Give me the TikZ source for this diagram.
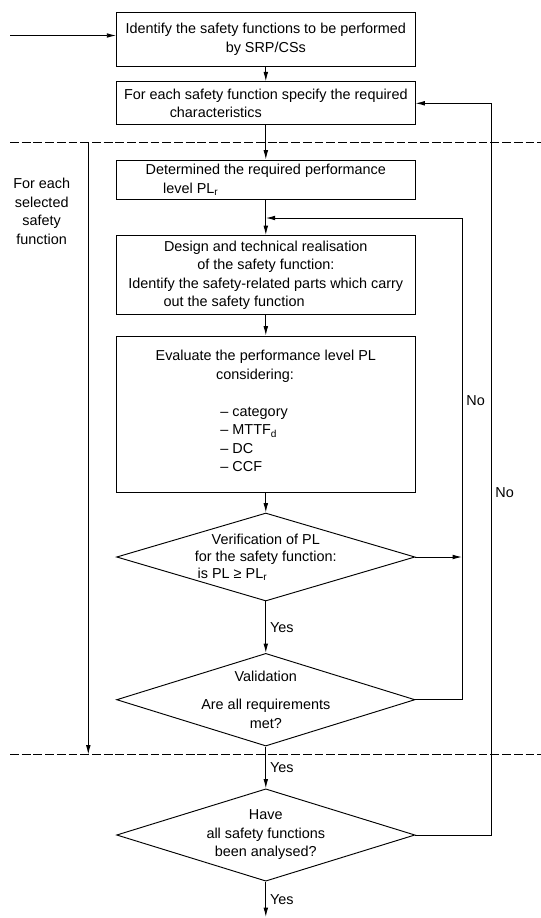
\documentclass[tikz,border=0pt]{standalone}
\usepackage{fontspec}
\setmainfont{Liberation Sans}
\usetikzlibrary{shapes.geometric,arrows.meta}
\tikzset{
  stepbox/.style={draw,rectangle,minimum width=8.95cm,align=center,inner sep=2pt},
  decision/.style={draw,diamond,minimum width=8.95cm,inner sep=0pt},
  dashline/.style={dash pattern=on 7.5pt off 2.5pt},
}
\begin{document}
\begin{tikzpicture}[x=0.03cm,y=-0.03cm,>={Latex[length=8pt,width=4pt]},line width=0.8pt,
  font=\fontsize{12.3}{15.8}\selectfont]
\useasboundingbox (0,0) rectangle (541,918);
% boxes
\node[stepbox,minimum height=1.6cm](box1) at (265.8,39.5){Identify the safety functions to be performed\\by SRP/CSs};
\node[stepbox,minimum height=1.29cm](box2) at (265.8,103.3){For each safety function specify the required\\\hspace*{-3cm}characteristics};
\node[stepbox,minimum height=1.18cm](box3) at (265.8,179.7){Determined the required performance\\\hspace*{-4.5cm}level PL\textsubscript{r}};
\node[stepbox,minimum height=2.38cm](box4) at (265.8,275.2){Design and technical realisation\\of the safety function:\\Identify the safety-related parts which carry\\\hspace*{-1.9cm}out the safety function};
\node[stepbox,minimum height=4.68cm](box5) at (265.8,414){Evaluate the performance level PL\\\hspace*{-0.65cm}considering:\\[\baselineskip]
  \hspace*{-0.7cm}\begin{tabular}[t]{@{}l@{}}– category\\– MTTF\textsubscript{d}\\– DC\\– CCF\end{tabular}};
% decisions
\node[decision,minimum height=2.64cm,label={[align=center,font=\fontsize{12.3}{14.5}\selectfont]center:Verification of PL\\for the safety function:\\\hspace*{-2cm}is PL ≥ PL\textsubscript{r}}](dia1) at (265.8,557){};
\node[decision,minimum height=2.78cm,label={[align=center]center:Validation\\[8pt]Are all requirements\\met?}](dia2) at (265.8,699.7){};
\node[decision,minimum height=2.77cm,label={[align=center]center:Have\\all safety functions\\been analysed?}](dia3) at (265.8,835){};
\node[align=center](sel) at (41.7,211.3){For each\\selected\\safety\\function};
% helper points
\coordinate (start) at (10,35.5);
\coordinate (join1) at (265.8,218);
\coordinate (back1) at (462,218);
\coordinate (back2) at (491,103.3);
\coordinate (selA) at (88.3,142);
\coordinate (selB) at (88.3,754.5);
\coordinate (fin) at (265.8,917);
\draw[dashline](10,142)--(541,142);
\draw[dashline](10,754.5)--(541,754.5);
% flow
\draw[->](start)--(start-|box1.west);
\draw[->](box1)--(box2);
\draw[->](box2)--(box3);
\draw[->](box3)--(box4);
\draw[->](box4)--(box5);
\draw[->](box5)--(dia1);
\draw[->](dia1)--node[right]{Yes}(dia2);
\draw[->](dia2)--node[right]{Yes}(dia3);
\draw[->](dia3)--node[right]{Yes}(fin);
\draw[->](selA)--(selB);
% loops back
\draw[->](dia1.east)--(dia1.east-|back1);
\draw[->](dia2.east)-|node[pos=0.81,right]{No}(back1)--(join1);
\draw[->](dia3.east)-|node[pos=0.734,right]{No}(back2)--(box2.east);
\end{tikzpicture}
\end{document}
